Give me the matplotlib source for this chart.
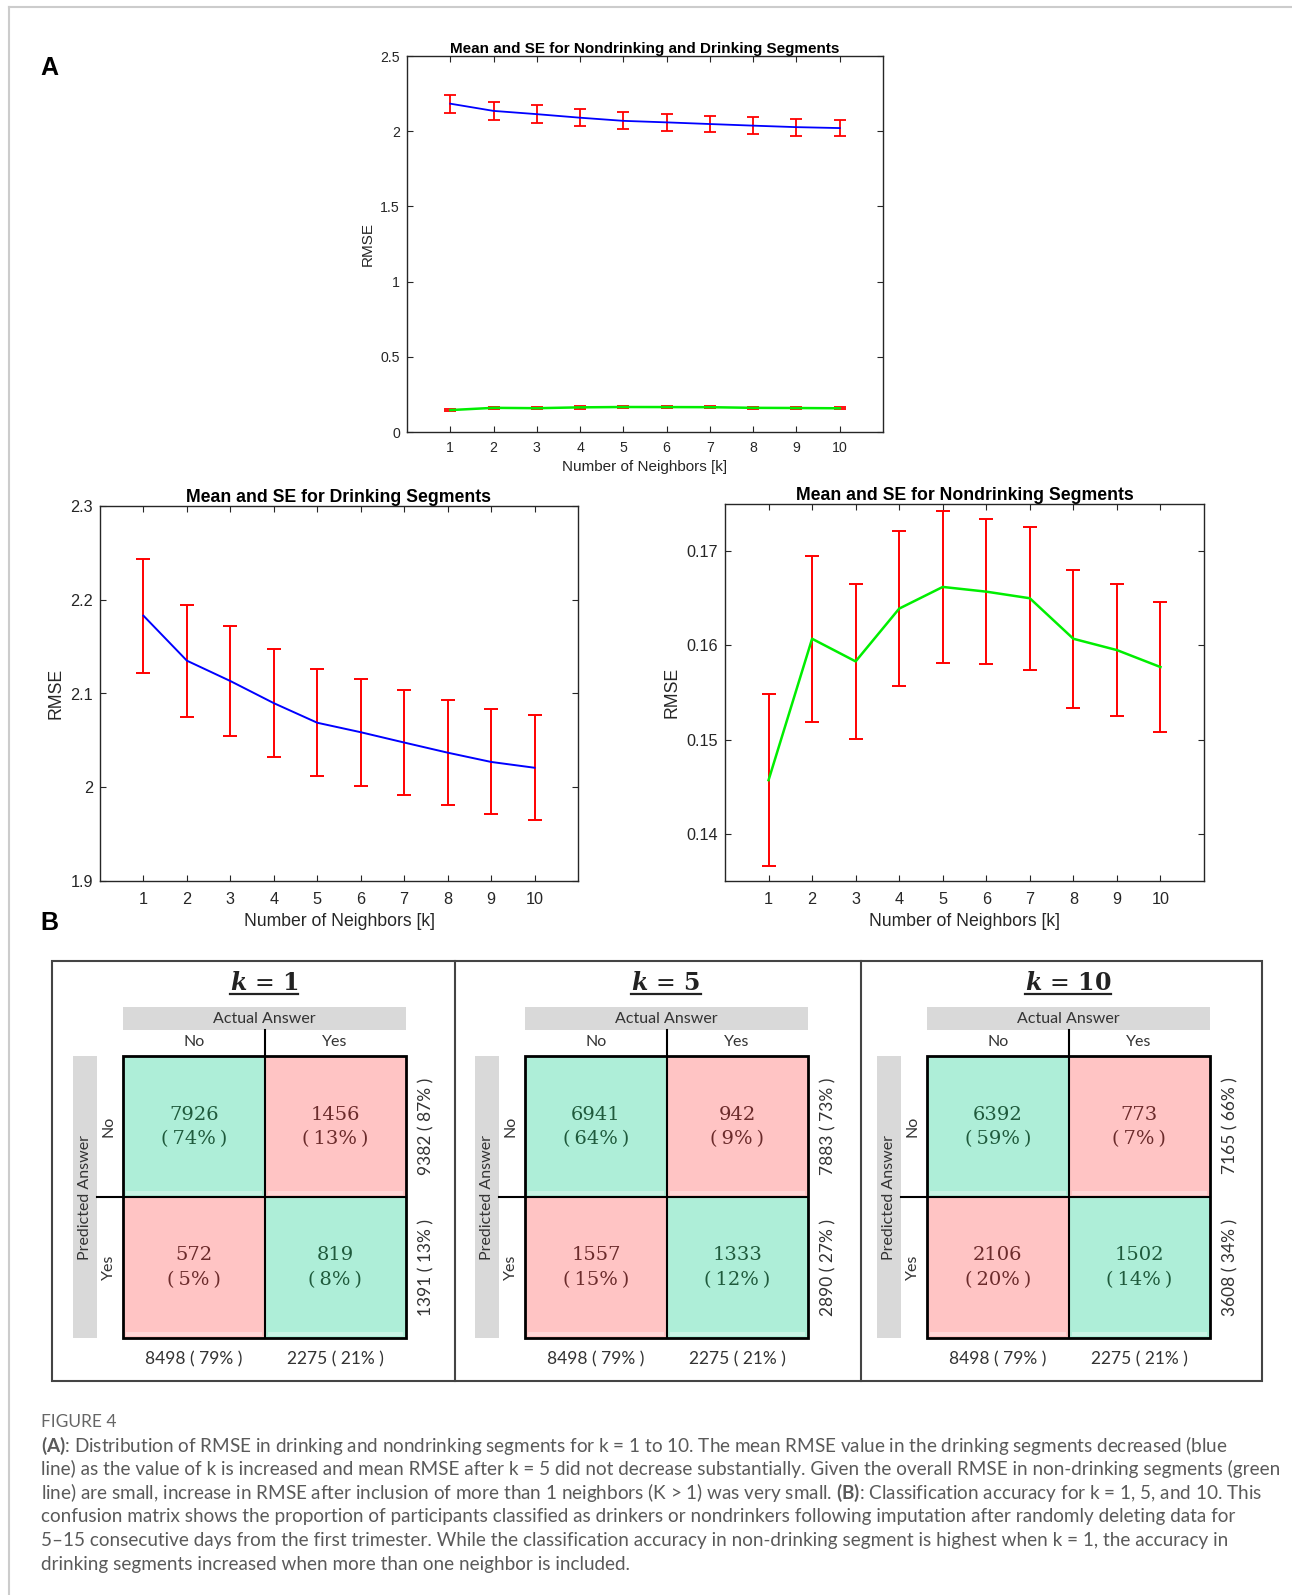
import matplotlib.pyplot as plt
import numpy as np
from matplotlib.patches import Rectangle
from matplotlib.ticker import FormatStrFormatter

plt.rcParams['font.family'] = ['Liberation Sans', 'DejaVu Sans']
plt.rcParams['mathtext.fontset'] = 'custom'
plt.rcParams['mathtext.rm'] = 'Lato'
plt.rcParams['mathtext.bf'] = 'Lato:bold'

W, H = 1292, 1595

## ======= data

k_vals = np.arange(1, 11)
drink_mean = [2.1830, 2.1350, 2.1133, 2.0897, 2.0688, 2.0587, 2.0477, 2.0369, 2.0270, 2.0208]
drink_se = [0.0608, 0.0599, 0.0590, 0.0578, 0.0571, 0.0569, 0.0562, 0.0560, 0.0560, 0.0558]
nondrink_mean = [0.1457, 0.1607, 0.1583, 0.1639, 0.1662, 0.1657, 0.1650, 0.1607, 0.1595, 0.1577]
nondrink_se = [0.0091, 0.0088, 0.0082, 0.0082, 0.0081, 0.0077, 0.0076, 0.0073, 0.0070, 0.0069]

# confusion matrices: (pred No/act No, pred No/act Yes, pred Yes/act No, pred Yes/act Yes)
cm_k = [1, 5, 10]
cm_counts = [[7926, 1456, 572, 819],
             [6941, 942, 1557, 1333],
             [6392, 773, 2106, 1502]]
cm_pct = [[74, 13, 5, 8],
          [64, 9, 15, 12],
          [59, 7, 20, 14]]
row_pct = [[87, 13], [73, 27], [66, 34]]
col_pct = [[79, 21], [79, 21], [79, 21]]

caption_title = "FIGURE 4"
caption_lines = [
    r"$\mathbf{(A)}$: Distribution of RMSE in drinking and nondrinking segments for k = 1 to 10. The mean RMSE value in the drinking segments decreased (blue",
    "line) as the value of k is increased and mean RMSE after k = 5 did not decrease substantially. Given the overall RMSE in non-drinking segments (green",
    r"line) are small, increase in RMSE after inclusion of more than 1 neighbors (K > 1) was very small. $\mathbf{(B)}$: Classification accuracy for k = 1, 5, and 10. This",
    "confusion matrix shows the proportion of participants classified as drinkers or nondrinkers following imputation after randomly deleting data for",
    "5\u201315 consecutive days from the first trimester. While the classification accuracy in non-drinking segment is highest when k = 1, the accuracy in",
    "drinking segments increased when more than one neighbor is included.",
]

fig = plt.figure(figsize=(W / 100, H / 100), dpi=100)

# overlay in pixel coordinates for panel B, caption and frame
bx = fig.add_axes([0, 0, 1, 1])
bx.set_xlim(0, W)
bx.set_ylim(H, 0)
bx.axis('off')


def px_axes(l, t, r, b):
    return fig.add_axes([l / W, 1 - b / H, (r - l) / W, (b - t) / H])


def matlab_style(ax, fs, xpad):
    ax.set_xlim(0, 11)
    ax.set_xticks(k_vals)
    ax.tick_params(direction='in', top=True, right=True, length=4, width=0.8,
                   labelsize=fs, colors='#262626', pad=5)
    ax.tick_params(axis='x', pad=xpad)
    ax.yaxis.set_major_formatter(FormatStrFormatter('%g'))
    for s in ax.spines.values():
        s.set_color('#262626')
        s.set_linewidth(1.0)


## ======= Panel A

# overview: both series
ax1 = px_axes(407, 56, 883, 432)
ax1.errorbar(k_vals, drink_mean, yerr=drink_se, fmt='none', ecolor='red',
             elinewidth=1.3, capsize=4, capthick=1.3)
ax1.errorbar(k_vals, nondrink_mean, yerr=nondrink_se, fmt='none', ecolor='red',
             elinewidth=1.3, capsize=4, capthick=1.3)
ax1.plot(k_vals, drink_mean, color='blue', lw=1.3)
ax1.plot(k_vals, nondrink_mean, color='#00ee00', lw=1.8)
matlab_style(ax1, 10.2, 6.5)
ax1.set_ylim(0, 2.5)
ax1.set_yticks(np.arange(0, 2.51, 0.5))
ax1.set_title('Mean and SE for Nondrinking and Drinking Segments',
              fontsize=11, fontweight='bold', pad=2.5)
ax1.set_xlabel('Number of Neighbors [k]', fontsize=11, color='#262626', labelpad=3.5)
ax1.set_ylabel('RMSE', fontsize=11, color='#262626', labelpad=4)

# drinking segments
ax2 = px_axes(100, 506, 578, 881)
ax2.errorbar(k_vals, drink_mean, yerr=drink_se, fmt='none', ecolor='red',
             elinewidth=1.4, capsize=5, capthick=1.4)
ax2.plot(k_vals, drink_mean, color='blue', lw=1.4)
matlab_style(ax2, 11.7, 8)
ax2.set_ylim(1.9, 2.3)
ax2.set_yticks(np.arange(1.9, 2.31, 0.1))
ax2.set_title('Mean and SE for Drinking Segments', fontsize=12.7, fontweight='bold', pad=3)
ax2.set_xlabel('Number of Neighbors [k]', fontsize=12.7, color='#262626', labelpad=4)
ax2.set_ylabel('RMSE', fontsize=12.7, color='#262626', labelpad=4)

# nondrinking segments
ax3 = px_axes(725, 504, 1204, 881)
ax3.errorbar(k_vals, nondrink_mean, yerr=nondrink_se, fmt='none', ecolor='red',
             elinewidth=1.4, capsize=5, capthick=1.4)
ax3.plot(k_vals, nondrink_mean, color='#00ee00', lw=1.8)
matlab_style(ax3, 11.7, 8)
ax3.set_ylim(0.135, 0.175)
ax3.set_yticks([0.14, 0.15, 0.16, 0.17])
ax3.set_title('Mean and SE for Nondrinking Segments', fontsize=12.7, fontweight='bold', pad=3)
ax3.set_xlabel('Number of Neighbors [k]', fontsize=12.7, color='#262626', labelpad=4)
ax3.set_ylabel('RMSE', fontsize=12.7, color='#262626', labelpad=4)

bx.text(40, 68, 'A', fontsize=18, fontweight='bold', va='center', ha='left')
bx.text(40, 923, 'B', fontsize=18, fontweight='bold', va='center', ha='left')

## ======= Panel B: confusion matrices

green = '#aeeed8'
red = '#ffc4c4'
green_txt = '#1f5a3c'
red_txt = '#6b2b2b'
gray_bar = '#d9d9d9'
lab_font = ['Lato', 'DejaVu Sans']
num_font = ['DejaVu Serif']

bx.add_patch(Rectangle((52, 961), 1210, 420, fill=False, ec='#444444', lw=1.5))
for xd in [455, 861]:
    bx.plot([xd, xd], [961, 1381], color='#444444', lw=1.5)

titles = []
for p in range(3):
    o = p * 402
    cnt = cm_counts[p]
    L, R, Mx = 123.3 + o, 405.7 + o, 264.5 + o
    T, B, My = 1056, 1338, 1197

    t = bx.text(264 + o, 983, r'$\mathbfit{k}\,=\,\mathbf{%d}$' % cm_k[p], fontsize=17,
                ha='center', va='center', math_fontfamily='dejavuserif', color='#222222')
    titles.append(t)

    # header bars
    bx.add_patch(Rectangle((L, 1007), R - L, 23, color=gray_bar, lw=0))
    bx.text(Mx, 1019, 'Actual Answer', fontsize=11.5, family=lab_font, ha='center',
            va='center', color='#333333')
    bx.add_patch(Rectangle((73.3 + o, T), 23.4, B - T, color=gray_bar, lw=0))
    bx.text(85 + o, My, 'Predicted Answer', fontsize=11.5, family=lab_font, ha='center',
            va='center', rotation=90, color='#333333')
    bx.text(194 + o, 1042, 'No', fontsize=11.5, family=lab_font, ha='center', va='center', color='#333333')
    bx.text(335 + o, 1042, 'Yes', fontsize=11.5, family=lab_font, ha='center', va='center', color='#333333')
    bx.text(109 + o, 1126, 'No', fontsize=11.5, family=lab_font, ha='center', va='center',
            rotation=90, color='#333333')
    bx.text(109 + o, 1267, 'Yes', fontsize=11.5, family=lab_font, ha='center', va='center',
            rotation=90, color='#333333')

    # cells
    cells = [(L, T, Mx, My, green, green_txt), (Mx, T, R, My, red, red_txt),
             (L, My, Mx, B, red, red_txt), (Mx, My, R, B, green, green_txt)]
    for i, (x0, y0, x1, y1, fc, tc) in enumerate(cells):
        bx.add_patch(Rectangle((x0, y0), x1 - x0, y1 - y0, color=fc, lw=0))
        bx.add_patch(Rectangle((x0 + 3, y1 - 6), x1 - x0 - 6, 4, color='white', alpha=0.35, lw=0))
        cx, cy = (x0 + x1) / 2, (y0 + y1) / 2
        bx.text(cx, cy - 12, str(cnt[i]), fontsize=14, family=num_font, ha='center',
                va='center', color=tc)
        bx.text(cx, cy + 13, '(\u2009%d%%\u2009)' % cm_pct[p][i], fontsize=14, family=num_font,
                ha='center', va='center', color=tc)

    bx.add_patch(Rectangle((L, T), R - L, B - T, fill=False, ec='black', lw=2))
    bx.plot([Mx, Mx], [1030, B], color='black', lw=1.5)
    bx.plot([97 + o, R], [My, My], color='black', lw=1.5)

    # totals
    rows = [cnt[0] + cnt[1], cnt[2] + cnt[3]]
    cols = [cnt[0] + cnt[2], cnt[1] + cnt[3]]
    for j, yc in enumerate([1126, 1267]):
        bx.text(426.7 + o, yc, '%d ( %d%% )' % (rows[j], row_pct[p][j]), fontsize=12.5,
                family=lab_font, ha='center', va='center', rotation=90, color='#333333')
    for j, xc in enumerate([194, 335]):
        bx.text(xc + o, 1359, '%d ( %d%% )' % (cols[j], col_pct[p][j]), fontsize=12.5,
                family=lab_font, ha='center', va='center', color='#333333')

## ======= frame and caption

bx.plot([9, W], [7, 7], color='#cccccc', lw=1.5)
bx.plot([9, 9], [7, H], color='#cccccc', lw=1.5)

bx.text(41, 1422, caption_title, fontsize=12.5, family=lab_font, color='#666666',
        ha='left', va='center')
cap_texts = []
for i, line in enumerate(caption_lines):
    cap_texts.append(bx.text(41, 1445.6 + i * 23.7, line, fontsize=12, family=lab_font,
                             color='#5a5a5a', ha='left', va='center'))

fig.canvas.draw()
# fit the caption to the reference line width, and underline the k titles
scale = 1221 / cap_texts[2].get_window_extent().width
for t in cap_texts:
    t.set_fontsize(12 * scale)
inv = bx.transData.inverted()
for t in titles:
    bb = t.get_window_extent()
    (xa, _), (xb, _) = inv.transform([(bb.x0, bb.y0), (bb.x1, bb.y0)])
    bx.plot([xa, xb], [994, 994], color='#222222', lw=1.6)

fig.savefig('out.png', dpi=100)
